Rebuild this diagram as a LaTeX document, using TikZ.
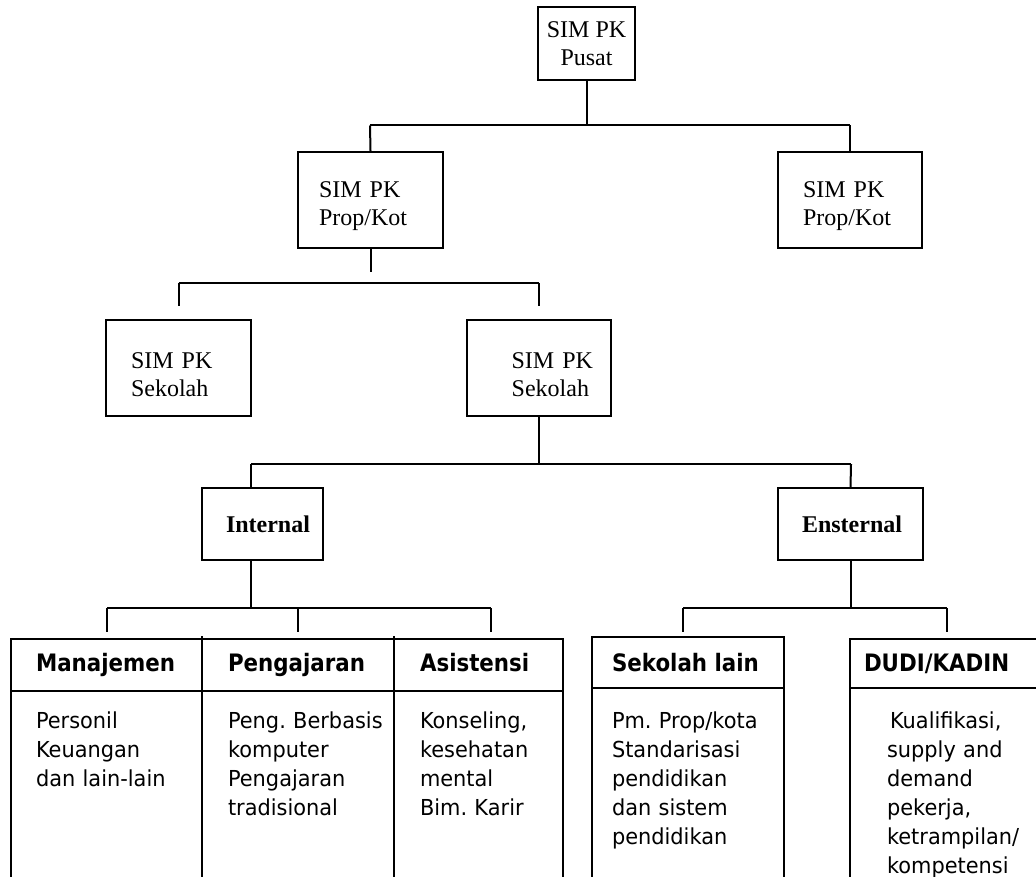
\documentclass[tikz,border=0pt]{standalone}
\usepackage{fontspec}
\setmainfont{Liberation Serif}
\newfontfamily\tahoma[FakeStretch=0.95]{DejaVu Sans}
\newfontfamily\tahomab[FakeStretch=0.89]{DejaVu Sans}
\usetikzlibrary{calc}
\frenchspacing

\tikzset{
  kotak/.style={draw,line width=1pt,align=left,inner sep=0pt,font=\fontsize{12}{14}\selectfont},
  turun/.style={execute at begin node={\rule{0pt}{14.5pt}}},
  kepala/.style={anchor=base west,inner sep=0pt,font=\tahomab\bfseries\fontsize{12}{14}\selectfont},
  isi/.style={anchor=base west,inner sep=0pt,align=left,text width=90pt,font=\tahoma\fontsize{11}{14.5}\selectfont},
}

\begin{document}
\begin{tikzpicture}[x=0.5pt,y=-0.5pt,line width=1pt]
  %\draw[help lines] (0,0) grid (1036,876);
  \useasboundingbox (0,0) rectangle (1036,876);
  % kotak SIM PK
  \node[kotak,align=center,minimum width=48.5pt,minimum height=36.5pt] (pusat) at (586.5,43.5) {SIM PK\\Pusat};
  \node[kotak,turun,minimum height=48pt,inner xsep=10.5pt,text width=51.5pt] (propA) at (370.5,200) {SIM PK\\Prop/Kot};
  \node[kotak,turun,minimum height=48pt,inner xsep=12.5pt,text width=47pt] (propB) at (850,200) {SIM PK\\Prop/Kot};
  \node[kotak,turun,minimum height=48pt,inner xsep=12.5pt,text width=47.5pt] (sekA) at (178.5,368) {SIM PK\\Sekolah};
  \node[kotak,turun,minimum height=48pt,inner xsep=9pt,text width=54pt,align=right] (sekB) at (539,368) {SIM PK\\Sekolah\,};
  \node[kotak,font=\bfseries\fontsize{12}{14}\selectfont,minimum height=36pt,inner xsep=12pt,text width=36.5pt] (intern) at (262.5,524) {Internal};
  \node[kotak,font=\bfseries\fontsize{12}{14}\selectfont,minimum height=36pt,inner xsep=12pt,text width=48.5pt] (ekstern) at (850.5,524) {Ensternal};

  % garis penghubung
  \coordinate (a1) at (370,125.5);
  \coordinate (a2) at (850,125.5);
  \draw (pusat.south) -- (pusat.south |- a1);
  \draw (a1) -- (a2);
  \draw (a1) -- (propA.north);
  \draw (a2) -- (propB.north);

  \coordinate (b0) at (370.5,272);
  \coordinate (b1) at (178.5,283);
  \coordinate (b2) at (539,283);
  \draw (propA.south) -- (b0);
  \draw (b1) -- (b2);
  \draw (b1) -- ($(sekA.north)+(0,-13)$);
  \draw (b2) -- ($(sekB.north)+(0,-13)$);

  \coordinate (c1) at (251,464);
  \coordinate (c2) at (851,464);
  \draw (sekB.south) -- (sekB.south |- c1);
  \draw (c1) -- (c2);
  \draw (c1) -- (c1 |- intern.north);
  \draw (c2) -- (ekstern.north);

  \coordinate (d1) at (107,608);
  \coordinate (d2) at (298,608);
  \coordinate (d3) at (491,608);
  \draw (c1 |- intern.south) -- (c1 |- d1);
  \draw (d1) -- (d3);
  \foreach \d in {d1,d2,d3} \draw (\d) -- ++(0,24);

  \coordinate (e1) at (683,608);
  \coordinate (e2) at (947,608);
  \draw (ekstern.south) -- (ekstern.south |- e1);
  \draw (e1) -- (e2);
  \foreach \e in {e1,e2} \draw (\e) -- ++(0,24);

  % tabel internal
  \draw (11,880) |- (563,639) -- (563,880);
  \draw (11,691) -- (563,691);
  \draw (202,636) -- (202,880);
  \draw (394,636) -- (394,880);
  % tabel eksternal
  \draw (592,880) |- (784,637) -- (784,880);
  \draw (592,688) -- (784,688);
  \draw (850,880) |- (1040,639);
  \draw (850,688) -- (1040,688);

  \node[kepala] (manaj) at (35,671) {Manajemen};
  \node[kepala] (ajar) at (227,671) {Pengajaran};
  \node[kepala] (asis) at (419,671) {Asistensi};
  \node[kepala] (seklain) at (611,671) {Sekolah lain};
  \node[kepala] (dudi) at (863,671) {DUDI/KADIN};

  \node[isi] (isiManaj) at (35,728) {Personil\\Keuangan\\dan lain-lain};
  \node[isi] (isiAjar) at (227,728) {Peng. Berbasis\\komputer\\Pengajaran\\tradisional};
  \node[isi] (isiAsis) at (419,728) {Konseling,\\kesehatan\\mental\\Bim. Karir};
  \node[isi] (isiSek) at (611,728) {Pm. Prop/kota\\Standarisasi\\pendidikan\\dan sistem\\pendidikan};
  \node[isi] (isiDudi) at (886,728) {\hspace*{1.5pt}Kualifikasi,\\supply and\\demand\\pekerja,\\ketrampilan/\\kompetensi};
\end{tikzpicture}
\end{document}
